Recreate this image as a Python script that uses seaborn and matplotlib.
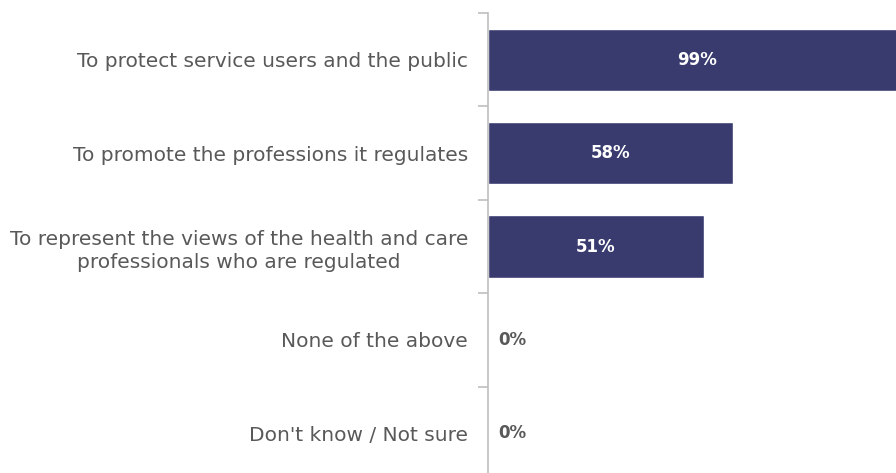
import numpy as np
import pandas as pd
import matplotlib.pyplot as plt
import seaborn as sns

categories = [
    "To protect service users and the public",
    "To promote the professions it regulates",
    "To represent the views of the health and care\nprofessionals who are regulated",
    "None of the above",
    "Don't know / Not sure",
]
values = [99, 58, 51, 0, 0]

BAR = "#393B6F"
GREY = "#595959"

df = pd.DataFrame({"category": categories, "value": values})

sns.set_style("white")
plt.rcParams["font.family"] = ["DejaVu Sans"]

fig = plt.figure(figsize=(8.96, 4.73), dpi=100)
# axes runs a little past the figure edges, like the source chart
ax = fig.add_axes([487.5 / 896, -7 / 473, 424 / 896, 467 / 473])

sns.barplot(data=df, y="category", x="value", color=BAR, width=0.665,
            saturation=1, ax=ax, orient="h")

ax.set_xlim(0, 100)
ax.set_ylim(len(categories) - 0.5, -0.5)
ax.set_xlabel("")
ax.set_ylabel("")
ax.set_xticks([])

for s in ["top", "right", "bottom"]:
    ax.spines[s].set_visible(False)
ax.spines["left"].set_color("#BFBFBF")
ax.spines["left"].set_linewidth(1.2)

ax.set_yticks(np.arange(len(categories)))
ax.set_yticklabels(categories, fontsize=14.5, color=GREY, linespacing=1.3)
ax.tick_params(axis="y", which="major", left=True, length=0, pad=14)
for lab in ax.get_yticklabels():
    lab.set_multialignment("center")
ax.set_yticks(np.arange(len(categories) + 1) - 0.5, minor=True)
ax.tick_params(axis="y", which="minor", left=True, length=7,
               color="#BFBFBF", width=1.2)

for i, v in enumerate(values):
    if v > 0:
        ax.text(v / 2, i, f"{v}%", ha="center", va="center", color="white",
                fontsize=12, fontweight="bold", clip_on=False)
    else:
        ax.text(2.5, i, f"{v}%", ha="left", va="center", color=GREY,
                fontsize=12, fontweight="bold")

fig.savefig("out.png", dpi=100)
